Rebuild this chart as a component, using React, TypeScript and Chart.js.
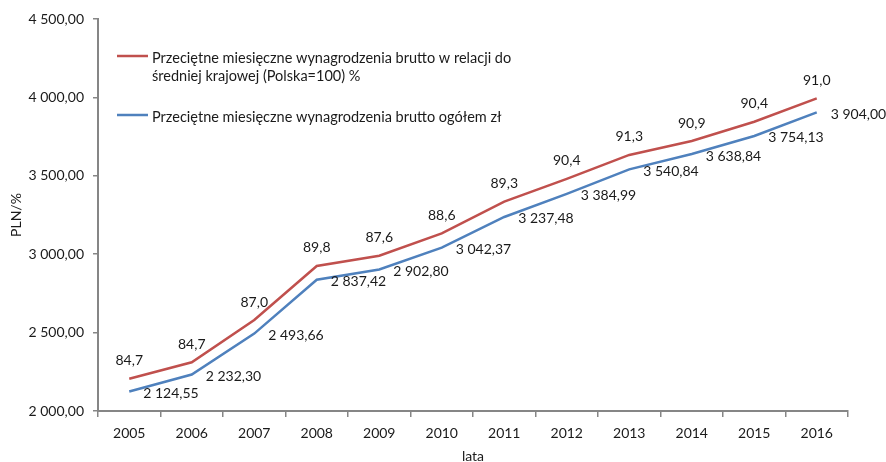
import React, { useEffect, useRef } from "react";
import { Chart, registerables } from "chart.js";

Chart.register(...registerables);

const years = ["2005", "2006", "2007", "2008", "2009", "2010", "2011", "2012", "2013", "2014", "2015", "2016"];
const wageTotal = [2124.55, 2232.3, 2493.66, 2837.42, 2902.8, 3042.37, 3237.48, 3384.99, 3540.84, 3638.84, 3754.13, 3904.0];
const relationLinePos = [2206, 2311, 2580, 2925, 2990, 3133, 3335, 3480, 3633, 3722, 3845, 3994];
const relationLabels = ["84,7", "84,7", "87,0", "89,8", "87,6", "88,6", "89,3", "90,4", "91,3", "90,9", "90,4", "91,0"];
const legendRed = ["Przeciętne miesięczne wynagrodzenia brutto w relacji do", "średniej krajowej (Polska=100) %"];
const legendBlue = ["Przeciętne miesięczne wynagrodzenia brutto ogółem zł"];

const RED = "#C0504D";
const BLUE = "#4F81BD";
const FONT = "Lato";
const TEXT = "#1a1a1a";
const AXIS = "#868686";

function fmt(v: number): string {
  const [i, d] = v.toFixed(2).split(".");
  const withSp = i.replace(/\B(?=(\d{3})+(?!\d))/g, " ");
  return withSp + "," + d;
}

const labelsPlugin = {
  id: "customLabels",
  afterDatasetsDraw(chart: any) {
    const ctx = chart.ctx;
    ctx.save();
    ctx.font = `14px ${FONT}`;
    ctx.fillStyle = TEXT;
    const redMeta = chart.getDatasetMeta(0);
    redMeta.data.forEach((pt: any, i: number) => {
      ctx.textAlign = "center";
      ctx.textBaseline = "middle";
      ctx.fillText(relationLabels[i], pt.x, pt.y - 18);
    });
    const blueMeta = chart.getDatasetMeta(1);
    blueMeta.data.forEach((pt: any, i: number) => {
      ctx.textAlign = "left";
      ctx.textBaseline = "middle";
      ctx.fillText(fmt(wageTotal[i]), pt.x + 14, pt.y + 2);
    });
    // legend
    ctx.font = `14.5px ${FONT}`;
    const lx1 = chart.chartArea.left + 19;
    const lx2 = lx1 + 31;
    const tx = lx2 + 4;
    const drawItem = (color: string, lines: string[], y: number) => {
      ctx.strokeStyle = color;
      ctx.lineWidth = 2.5;
      ctx.beginPath();
      ctx.moveTo(lx1, y);
      ctx.lineTo(lx2, y);
      ctx.stroke();
      ctx.textAlign = "left";
      ctx.textBaseline = "middle";
      lines.forEach((l, k) => ctx.fillText(l, tx, y + 2 + k * 18));
    };
    drawItem(RED, legendRed, chart.chartArea.top + 37);
    drawItem(BLUE, legendBlue, chart.chartArea.top + 96);
    ctx.restore();
  },
};

export default function App() {
  const ref = useRef<HTMLCanvasElement | null>(null);
  useEffect(() => {
    if (!ref.current) return;
    const chart = new Chart(ref.current, {
      type: "line",
      data: {
        labels: years,
        datasets: [
          {
            label: legendRed.join(" "),
            data: relationLinePos,
            borderColor: RED,
            backgroundColor: RED,
            borderWidth: 2.5,
            pointRadius: 0,
            tension: 0,
          },
          {
            label: legendBlue[0],
            data: wageTotal,
            borderColor: BLUE,
            backgroundColor: BLUE,
            borderWidth: 2.5,
            pointRadius: 0,
            tension: 0,
          },
        ],
      },
      options: {
        responsive: false,
        animation: false,
        layout: { padding: { top: 19, right: 38, bottom: 0, left: 0 } },
        plugins: { legend: { display: false }, tooltip: { enabled: false } },
        scales: {
          x: {
            offset: true,
            grid: { offset: true, drawOnChartArea: false, drawTicks: true, tickLength: 6, color: AXIS, lineWidth: 1.5 },
            border: { display: true, color: AXIS, width: 2 },
            ticks: { color: TEXT, font: { family: FONT, size: 14 }, padding: 8, maxRotation: 0 },
            title: { display: true, text: "lata", color: TEXT, font: { family: FONT, size: 14, lineHeight: 1 }, padding: { top: 0, bottom: -1 } },
            afterFit: (s: any) => { s.height = 51; },
          },
          y: {
            min: 2000,
            max: 4500,
            grid: { drawOnChartArea: false, drawTicks: true, tickLength: 5, color: AXIS, lineWidth: 1.5 },
            border: { display: true, color: AXIS, width: 2 },
            ticks: { stepSize: 500, color: TEXT, font: { family: FONT, size: 14 }, padding: 9, callback: (v: any) => fmt(Number(v)) },
            title: { display: true, text: "PLN/%", color: TEXT, font: { family: FONT, size: 14 }, padding: { top: 8, bottom: 0 } },
            afterFit: (s: any) => { s.width = 98; },
          },
        },
      },
      plugins: [labelsPlugin],
    });
    return () => chart.destroy();
  }, []);
  return (
    <div style={{ position: "fixed", left: 0, top: 0, width: 886, height: 462, background: "#fff" }}>
      <canvas ref={ref} width={886} height={462} style={{ display: "block" }} />
    </div>
  );
}
